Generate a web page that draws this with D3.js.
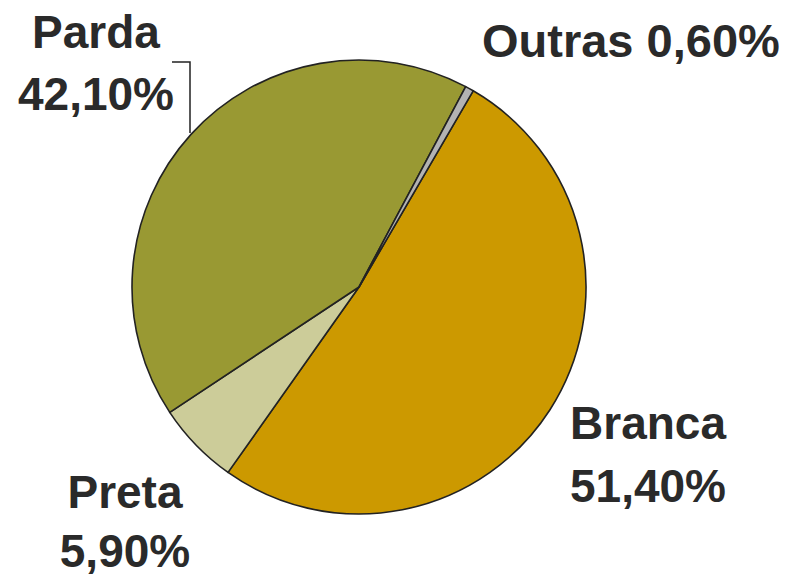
<!DOCTYPE html>
<html>
<head>
<meta charset="utf-8" />
<title>Cor/raça</title>
<script src="https://cdn.jsdelivr.net/npm/d3@7"></script>
<style>
  body { margin: 0; background: #fff; }
  text { font-family: "Liberation Sans", Arial, sans-serif; font-weight: bold; fill: #2a2a2a; }
</style>
</head>
<body>
<script>
var categories = ['Branca', 'Preta', 'Parda', 'Outras'];
var values = [51.4, 5.9, 42.1, 0.6];
var valueLabels = ['51,40%', '5,90%', '42,10%', '0,60%'];
var colors = ['#cc9900', '#cccc99', '#999933', '#b3b3b3'];

var width = 786, height = 579;
var cx = 359, cy = 287, radius = 227;
var svg = d3.select('body').append('svg').attr('width', width).attr('height', height);

var start = 30.2 * Math.PI / 180; // first slice starts a little right of 12 o'clock
var pie = d3.pie().sort(null).value(function(d){ return d; })
  .startAngle(start).endAngle(start + 2 * Math.PI);
var arc = d3.arc().innerRadius(0).outerRadius(radius);

var g = svg.append('g').attr('transform', 'translate(' + cx + ',' + cy + ')');
g.selectAll('path').data(pie(values)).enter().append('path')
  .attr('d', arc)
  .attr('fill', function(d, i){ return colors[i]; })
  .attr('stroke', '#222')
  .attr('stroke-width', 1.6)
  .attr('stroke-linejoin', 'round');

// label placements: x, baseline of each line
var labels = [
  { x: 648, ys: [439, 502], anchor: 'middle', size: 46, lines: [categories[0], valueLabels[0]] },
  { x: 125, ys: [508, 567], anchor: 'middle', size: 46, lines: [categories[1], valueLabels[1]] },
  { x: 96, ys: [48, 110], anchor: 'middle', size: 46, lines: [categories[2], valueLabels[2]] },
  { x: 482, ys: [57], anchor: 'start', size: 47, lines: [categories[3] + ' ' + valueLabels[3]] }
];
labels.forEach(function(l){
  l.lines.forEach(function(s, j){
    svg.append('text').attr('x', l.x).attr('y', l.ys[j])
      .attr('text-anchor', l.anchor).style('font-size', l.size + 'px').text(s);
  });
});

// leader line for Parda
svg.append('path').attr('d', 'M172,62H190V133')
  .attr('fill', 'none').attr('stroke', '#222').attr('stroke-width', 1.5);
</script>
</body>
</html>
